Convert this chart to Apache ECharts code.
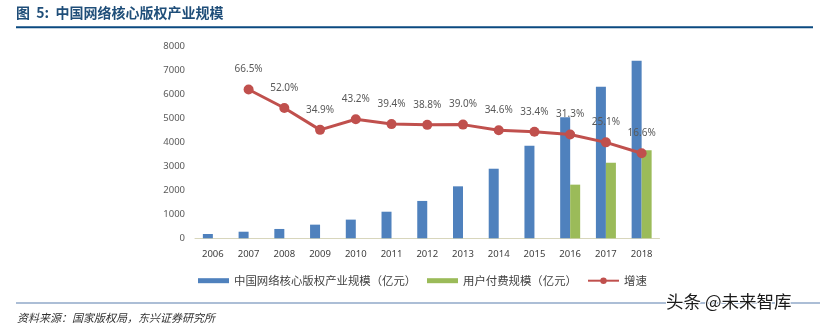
<!DOCTYPE html>
<html>
<head>
<meta charset="utf-8">
<script src="https://cdn.jsdelivr.net/npm/echarts@6/dist/echarts.min.js"></script>
<style>
  html, body { margin: 0; padding: 0; background: #fff; }
  #chart { width: 825px; height: 328px; }
</style>
</head>
<body>
<div id="chart"></div>
<script>
// 年份
const years = ['2006', '2007', '2008', '2009', '2010', '2011', '2012', '2013', '2014', '2015', '2016', '2017', '2018'];
// 中国网络核心版权产业规模（亿元）
const coreScale = [180, 275, 390, 570, 780, 1110, 1560, 2170, 2905, 3865, 5050, 6330, 7415];
// 用户付费规模（亿元）
const userPaid = [null, null, null, null, null, null, null, null, null, null, 2240, 3155, 3675];
// 增速（%）
const growth = [null, 66.5, 52.0, 34.9, 43.2, 39.4, 38.8, 39.0, 34.6, 33.4, 31.3, 25.1, 16.6];
// 左轴刻度
const yTicks = [0, 1000, 2000, 3000, 4000, 5000, 6000, 7000, 8000];

const CJK = '"Noto Sans CJK SC", "Noto Sans", sans-serif';
const NUM = '"Noto Sans", "Noto Sans CJK SC", sans-serif';

const chart = echarts.init(document.getElementById('chart'), null, { renderer: 'canvas' });

const legendBase = {
  top: 270,
  padding: 5,
  itemGap: 0,
  textStyle: { fontFamily: CJK, fontSize: 11.4, color: '#404040' },
  selectedMode: false
};

chart.setOption({
  animation: false,
  backgroundColor: '#ffffff',
  grid: { left: 195, right: 165.5, top: 46.7, bottom: 89.7, containLabel: false },
  legend: [
    Object.assign({}, legendBase, { left: 193, itemWidth: 31, itemHeight: 5, data: [{ name: '中国网络核心版权产业规模（亿元）', icon: 'rect' }] }),
    Object.assign({}, legendBase, { left: 422, itemWidth: 31, itemHeight: 5, data: [{ name: '用户付费规模（亿元）', icon: 'rect' }] }),
    Object.assign({}, legendBase, { left: 582, itemWidth: 31, itemHeight: 8, data: [{ name: '增速' }] })
  ],
  xAxis: {
    type: 'category',
    data: years,
    axisLine: { lineStyle: { color: '#D8D6BC', width: 1 } },
    axisTick: { show: false },
    axisLabel: { fontFamily: NUM, fontSize: 9.5, color: '#404040', margin: 11 }
  },
  yAxis: [
    {
      type: 'value',
      min: yTicks[0],
      max: yTicks[yTicks.length - 1],
      interval: 1000,
      axisLine: { show: false },
      axisTick: { show: false },
      splitLine: { show: false },
      axisLabel: { fontFamily: NUM, fontSize: 9.5, color: '#595959', margin: 10, formatter: v => String(v) }
    },
    {
      type: 'value',
      min: -50,
      max: 100,
      show: false,
      splitLine: { show: false }
    }
  ],
  series: [
    {
      name: '中国网络核心版权产业规模（亿元）',
      type: 'bar',
      data: coreScale,
      barWidth: 10,
      barGap: '0%',
      itemStyle: { color: '#4F81BD' }
    },
    {
      name: '用户付费规模（亿元）',
      type: 'bar',
      data: userPaid,
      barWidth: 10,
      barGap: '0%',
      itemStyle: { color: '#9BBB59' }
    },
    {
      name: '增速',
      type: 'line',
      yAxisIndex: 1,
      data: growth,
      symbol: 'circle',
      symbolSize: 10,
      lineStyle: { color: '#C0504D', width: 3 },
      itemStyle: { color: '#C0504D' },
      label: {
        show: true,
        position: 'top',
        distance: 10,
        formatter: p => p.value.toFixed(1) + '%',
        fontFamily: NUM,
        fontSize: 10,
        color: '#595959'
      },
      z: 5
    }
  ],
  graphic: [
    {
      type: 'text', left: 16, top: 6,
      style: { text: '图  5:  中国网络核心版权产业规模', font: 'bold 14px ' + CJK, fill: '#1F4E79' }
    },
    {
      type: 'rect', shape: { x: 16, y: 26.3, width: 797, height: 2 },
      style: { fill: '#0B4A80' }
    },
    {
      type: 'rect', shape: { x: 16, y: 302.5, width: 804, height: 1 },
      style: { fill: '#5A7FAE' }
    },
    {
      type: 'text', left: 17, top: 312,
      style: { text: '资料来源：国家版权局，东兴证券研究所', font: 'italic 11px ' + CJK, fill: '#333333' }
    },
    {
      type: 'text', left: 665, top: 292,
      style: { text: '头条 @未来智库', font: '17.5px ' + CJK, fill: '#1a1a1a', stroke: '#ffffff', lineWidth: 2 }
    }
  ]
});
</script>
</body>
</html>
